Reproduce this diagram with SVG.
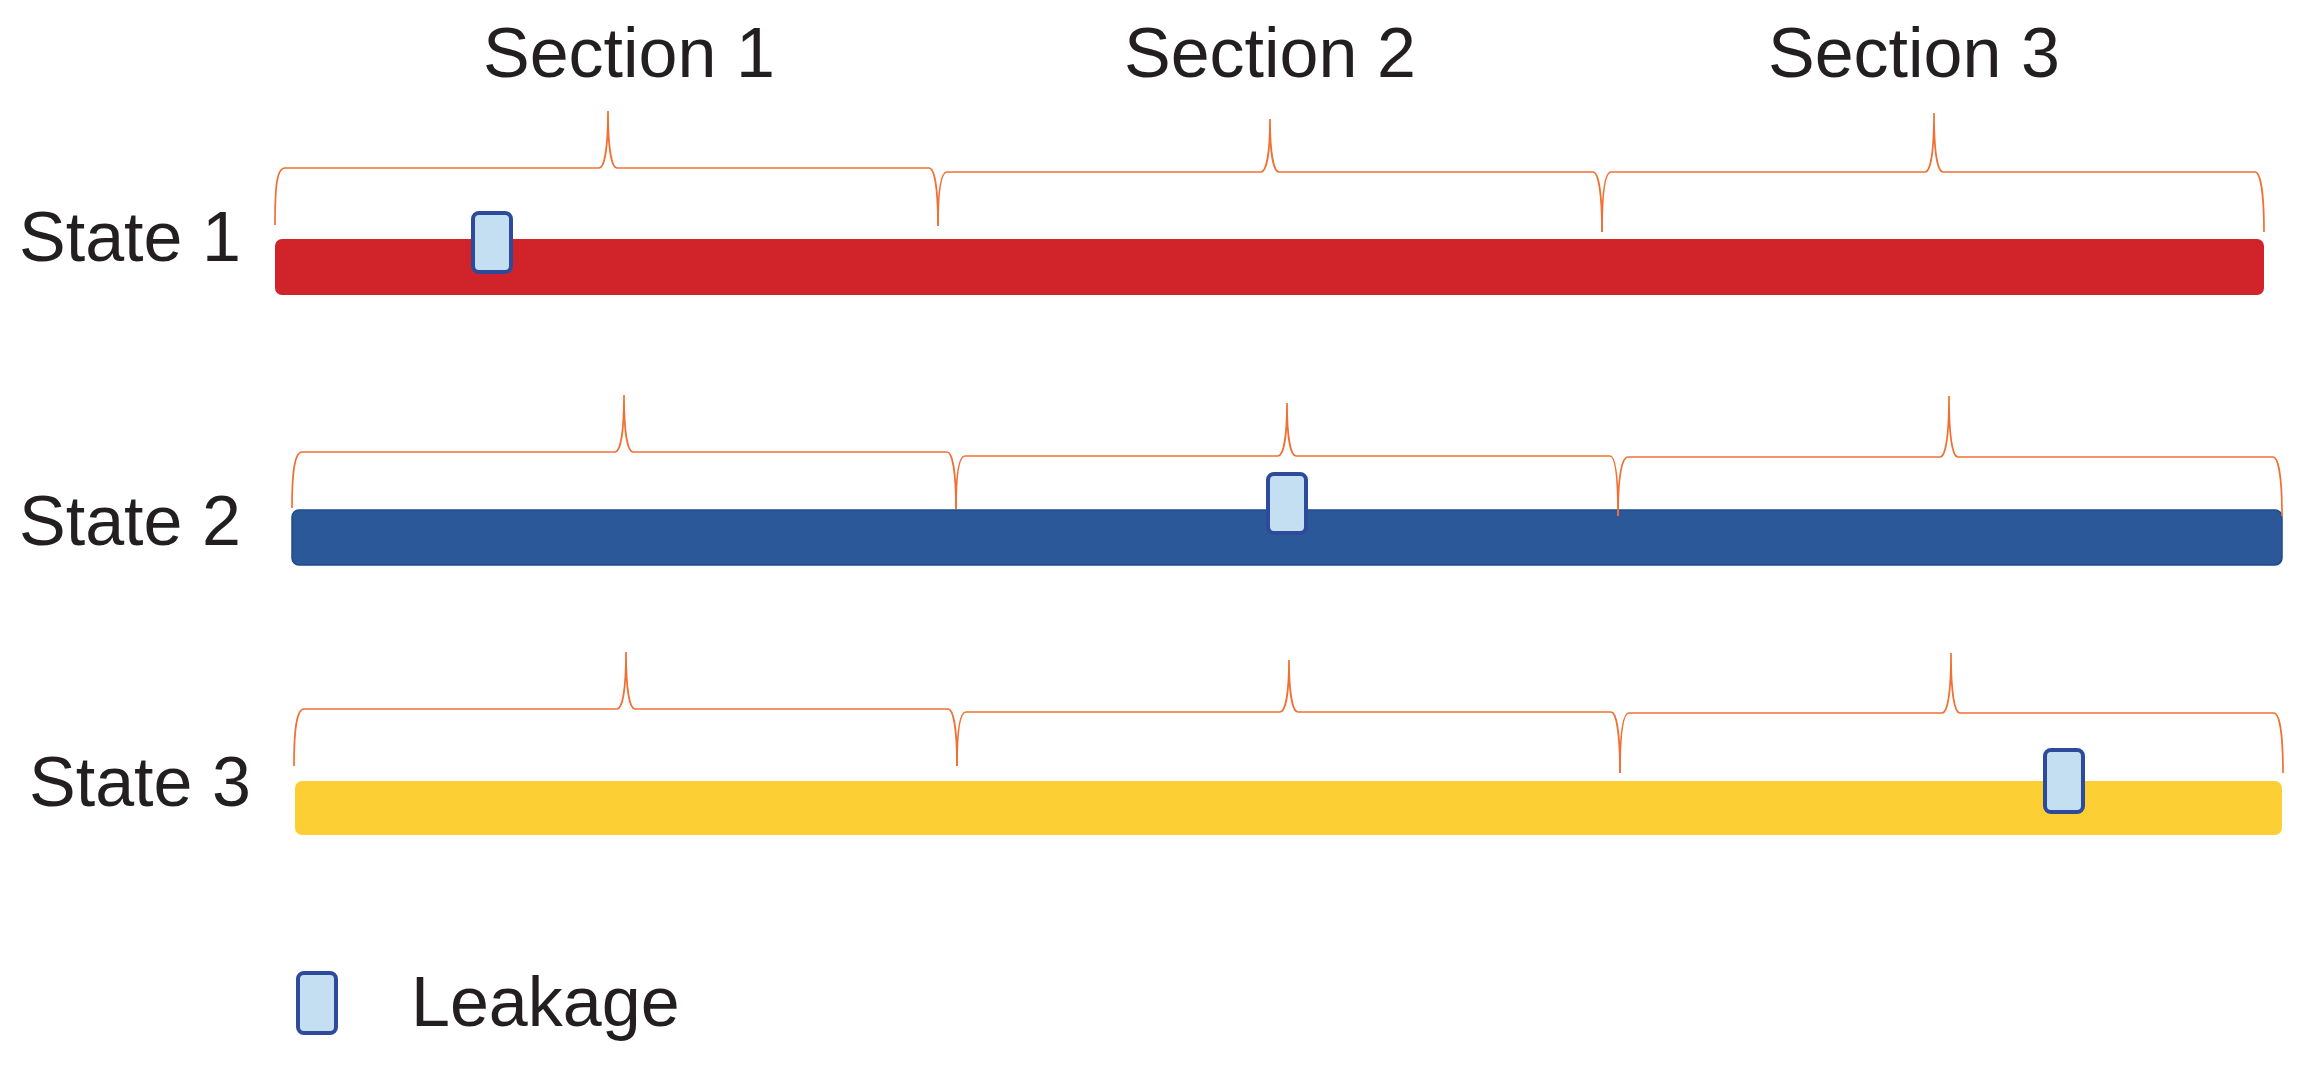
<svg xmlns="http://www.w3.org/2000/svg" width="2310" height="1066" viewBox="0 0 2310 1066">
<style>
.lbl{font-family:"Liberation Sans",Arial,sans-serif;font-size:70px;fill:#231F20}
.brace{fill:none;stroke:#F07034;stroke-width:1.7}
.leak{fill:#C4DEF2;stroke:#2E4B9B;stroke-width:4}
</style>
<rect width="2310" height="1066" fill="#FFFFFF"/>
<g id="section-labels">
<text class="lbl" x="483" y="77">Section 1</text>
<text class="lbl" x="1124" y="77">Section 2</text>
<text class="lbl" x="1768" y="77">Section 3</text>
</g>
<g id="state1">
<text class="lbl" x="19" y="261">State 1</text>
<rect x="275" y="239" width="1989" height="56" rx="7" fill="#D0232A"/>
</g>
<g id="state2">
<text class="lbl" x="19" y="545">State 2</text>
<rect x="292" y="510" width="1990" height="55" rx="7" fill="#2B5899" stroke="#1F4B8C" stroke-width="1.5"/>
</g>
<g id="state3">
<text class="lbl" x="29" y="806">State 3</text>
<rect x="295" y="781" width="1987" height="54" rx="7" fill="#FCD034"/>
</g>
<g id="connectors">
<path class="brace" d="M275,225 C275,185 277,168 285,168 H599 C604,168 608,150 608,111 C608,150 612,168 617,168 H929 C934,168 938,185 938,226"/>
<path class="brace" d="M938,226 C938,189 941,172 947,172 H1261 C1266,172 1270,155 1270,119 C1270,155 1274,172 1279,172 H1593 C1598,172 1602,190 1602,232"/>
<path class="brace" d="M1602,232 C1602,190 1605,172 1611,172 H1925 C1930,172 1934,155 1934,113 C1934,155 1938,172 1943,172 H2255 C2260,172 2264,190 2264,232"/>
<path class="brace" d="M292,508 C292,470 295,452 302,452 H615 C620,452 624,435 624,395 C624,435 628,452 633,452 H947 C952,452 956,470 956,509"/>
<path class="brace" d="M956,509 C956,474 959,456 965,456 H1278 C1283,456 1287,439 1287,403 C1287,439 1291,456 1296,456 H1610 C1615,456 1618,475 1618,516"/>
<path class="brace" d="M1618,516 C1618,475 1622,457 1628,457 H1940 C1945,457 1949,440 1949,396 C1949,440 1953,457 1958,457 H2273 C2278,457 2282,475 2282,516"/>
<path class="brace" d="M294,766 C294,727 297,709 304,709 H617 C622,709 626,692 626,652 C626,692 630,709 635,709 H948 C953,709 957,727 957,766"/>
<path class="brace" d="M957,766 C957,730 960,712 966,712 H1280 C1285,712 1289,695 1289,660 C1289,695 1293,712 1298,712 H1611 C1616,712 1620,731 1620,773"/>
<path class="brace" d="M1620,773 C1620,731 1623,713 1629,713 H1942 C1947,713 1951,696 1951,653 C1951,696 1955,713 1960,713 H2274 C2279,713 2283,731 2283,773"/>
</g>
<g id="leak1"><rect class="leak" x="473" y="213" width="38" height="59" rx="6"/></g>
<g id="leak2"><rect class="leak" x="1268" y="474" width="38" height="59" rx="6"/></g>
<g id="leak3"><rect class="leak" x="2045" y="750" width="38" height="62" rx="6"/></g>
<g id="legend">
<rect class="leak" x="298" y="973" width="38" height="60" rx="6"/>
<text class="lbl" x="411" y="1026">Leakage</text>
</g>
</svg>
